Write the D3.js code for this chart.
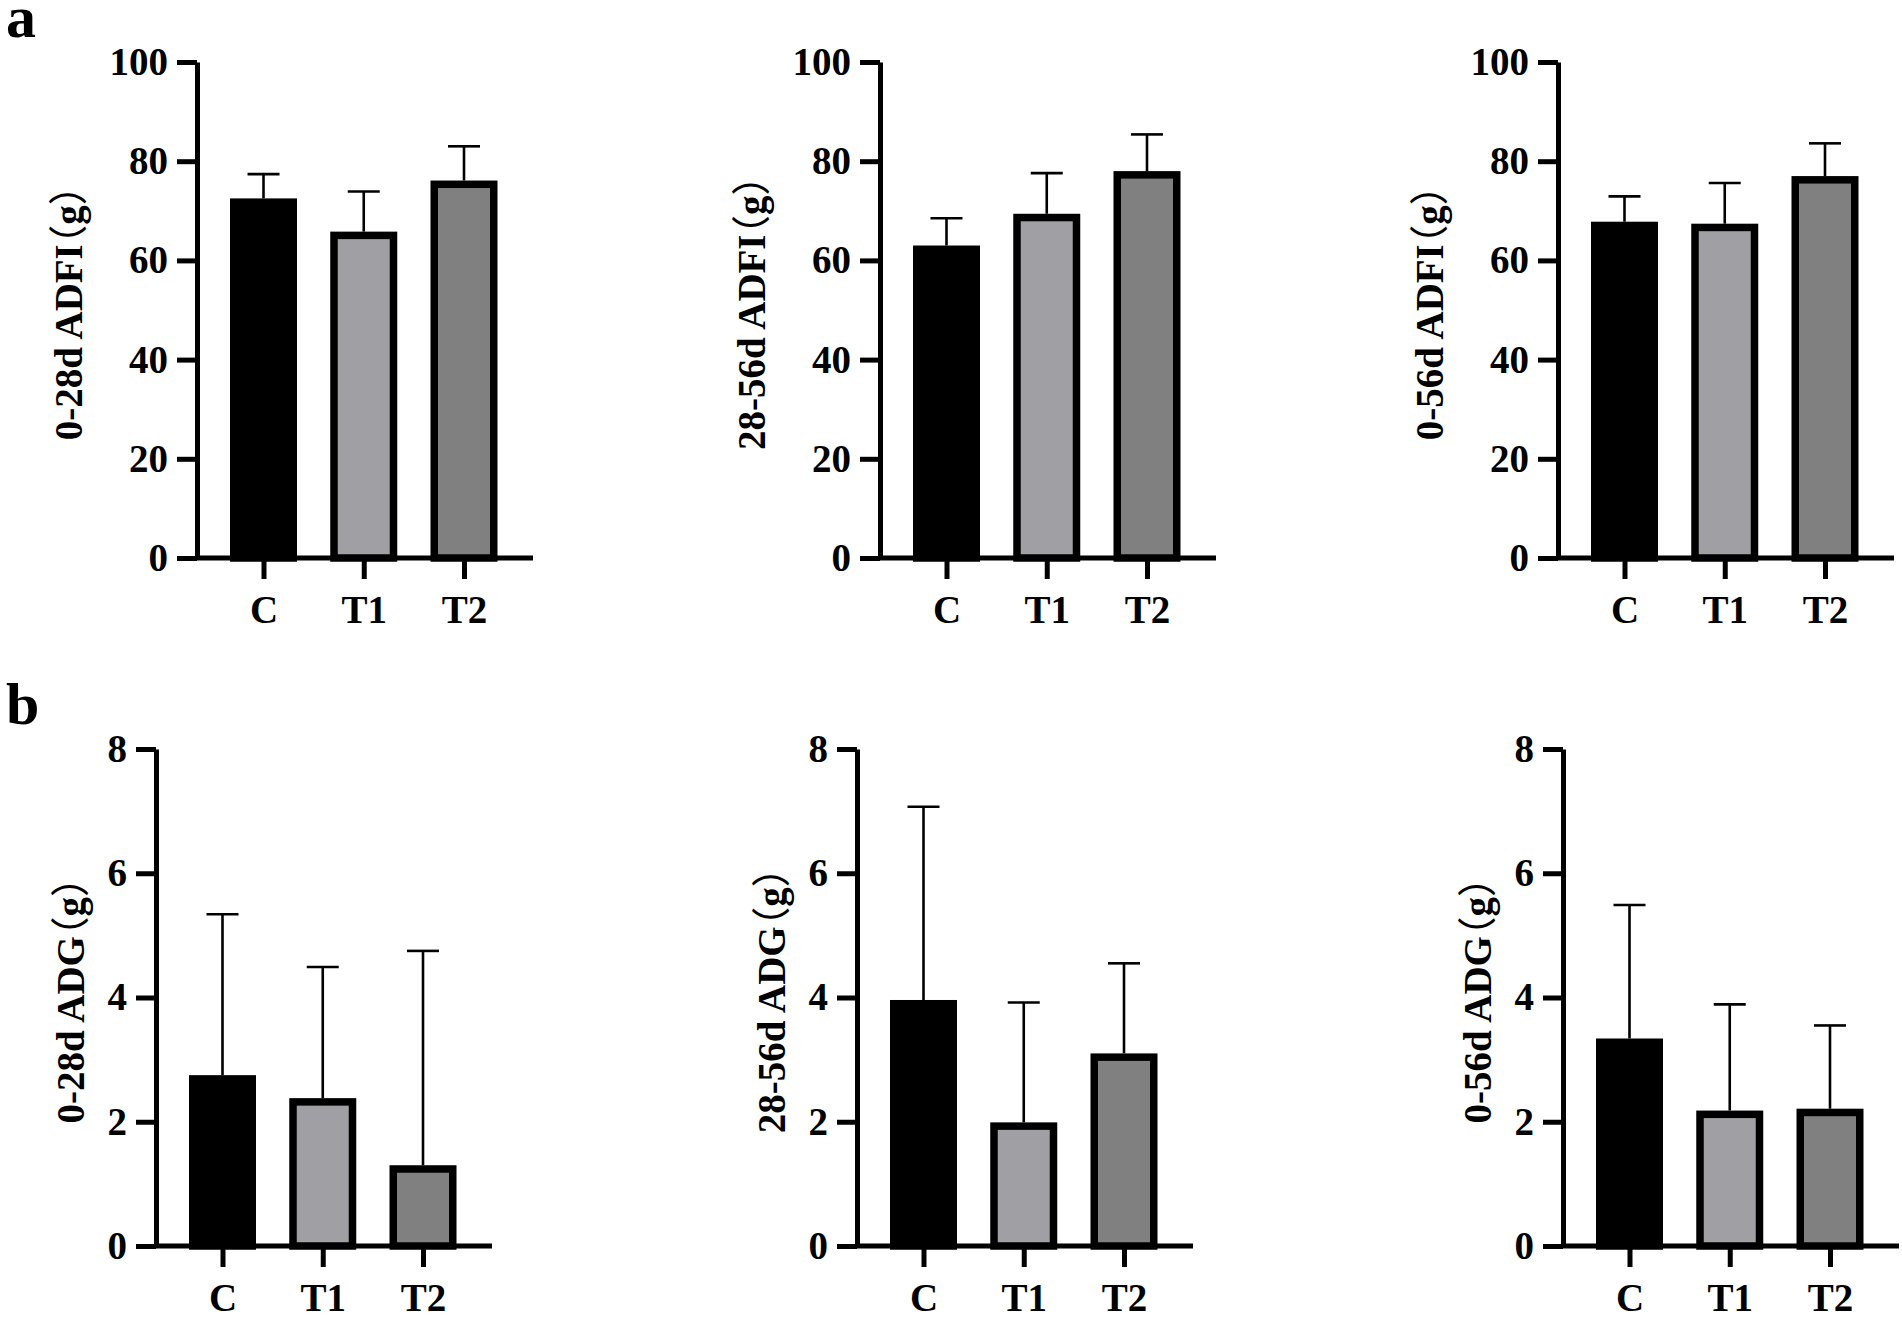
<!DOCTYPE html>
<html>
<head>
<meta charset="utf-8">
<script src="https://cdn.jsdelivr.net/npm/d3@7"></script>
<style>
  body { margin: 0; background: #fff; }
  text { font-family: "Liberation Serif", "Times New Roman", serif; font-weight: bold; fill: #000; }
  .paren { font-family: "Noto Sans CJK SC", sans-serif; font-weight: normal; font-feature-settings: "halt"; }
</style>
</head>
<body>
<script>
// groups and colours
var groups = ["C", "T1", "T2"];
var groupColors = ["#000000", "#a0a0a4", "#808080"];

// panel a: average daily feed intake
var adfiTitles = ["0-28d ADFI", "28-56d ADFI", "0-56d ADFI"];
var adfiTicks = [0, 20, 40, 60, 80, 100];
var adfiMean = [[72.5, 65.8, 76.1], [63.0, 69.4, 78.0], [67.8, 67.4, 77.0]];
var adfiSD = [[4.9, 8.1, 6.9], [5.5, 8.2, 7.4], [5.1, 8.2, 6.6]];

// panel b: average daily gain
var adgTitles = ["0-28d ADG", "28-56d ADG", "0-56d ADG"];
var adgTicks = [0, 2, 4, 6, 8];
var adgMean = [[2.75, 2.38, 1.30], [3.96, 1.99, 3.10], [3.34, 2.18, 2.21]];
var adgSD = [[2.59, 2.11, 3.45], [3.11, 1.93, 1.45], [2.15, 1.71, 1.34]];

var width = 1902, height = 1317;

var svg = d3.select("body").append("svg")
    .attr("width", width)
    .attr("height", height);

svg.append("rect").attr("width", width).attr("height", height).attr("fill", "#fff");

// panel letters
svg.append("text").attr("x", 6).attr("y", 37).style("font-size", "60px").text("a");
svg.append("text").attr("x", 6).attr("y", 724).style("font-size", "60px").text("b");

var axisLen = 336, barW = 67, barStroke = 7.5, capHalf = 16;

function drawPanel(axisX, yTop, yZero, maxVal, ticks, means, sds, title, labelGap){
    var g = svg.append("g");

    var y = d3.scaleLinear().domain([0, maxVal]).range([yZero, yTop]);
    var x = d3.scalePoint().domain(groups).range([axisX + 66.5, axisX + 267]);

    //bars, with the outline kept inside the value line
    g.selectAll(".bar")
        .data(groups)
        .enter()
        .append("rect")
        .attr("x", function(d){ return x(d) - barW / 2 + barStroke / 2; })
        .attr("y", function(d, i){ return y(means[i]) + barStroke / 2; })
        .attr("width", barW - barStroke)
        .attr("height", function(d, i){ return y(0) - y(means[i]) - barStroke / 2; })
        .attr("fill", function(d, i){ return groupColors[i]; })
        .attr("stroke", "#000")
        .attr("stroke-width", barStroke);

    //upper error bars
    g.selectAll(".err")
        .data(groups)
        .enter()
        .append("line")
        .attr("x1", function(d){ return x(d); })
        .attr("x2", function(d){ return x(d); })
        .attr("y1", function(d, i){ return y(means[i]); })
        .attr("y2", function(d, i){ return y(means[i] + sds[i]); })
        .attr("stroke", "#000")
        .attr("stroke-width", 2.6);
    g.selectAll(".cap")
        .data(groups)
        .enter()
        .append("line")
        .attr("x1", function(d){ return x(d) - capHalf; })
        .attr("x2", function(d){ return x(d) + capHalf; })
        .attr("y1", function(d, i){ return y(means[i] + sds[i]); })
        .attr("y2", function(d, i){ return y(means[i] + sds[i]); })
        .attr("stroke", "#000")
        .attr("stroke-width", 2.6);

    //y axis
    var yAxis = g.append("g")
        .attr("transform", "translate(" + axisX + ",0)")
        .call(d3.axisLeft(y).tickValues(ticks).tickSize(20).tickSizeOuter(0).tickPadding(9));
    yAxis.select(".domain").attr("stroke-width", 5);
    yAxis.selectAll(".tick line").attr("stroke-width", 5);
    yAxis.selectAll(".tick text").style("font-size", "39px").attr("font-family", null);

    //x axis base line
    g.append("line")
        .attr("x1", axisX).attr("x2", axisX + axisLen)
        .attr("y1", yZero).attr("y2", yZero)
        .attr("stroke", "#000").attr("stroke-width", 5);

    var xAxis = g.append("g")
        .attr("transform", "translate(0," + yZero + ")")
        .call(d3.axisBottom(x).tickSize(21).tickPadding(16));
    xAxis.select(".domain").remove();
    xAxis.selectAll(".tick line").attr("stroke-width", 5);
    xAxis.selectAll(".tick text").style("font-size", "39px").attr("font-family", null);

    //rotated y title
    var lab = g.append("text")
        .attr("transform", "translate(" + (axisX - labelGap) + "," + ((yTop + yZero) / 2 + 3) + ") rotate(-90)")
        .attr("text-anchor", "middle")
        .style("font-size", "39px");
    lab.append("tspan").text(title);
    lab.append("tspan").attr("class", "paren").text("（");
    lab.append("tspan").text("g");
    lab.append("tspan").attr("class", "paren").text("）");
}

var topAxisX = [197, 880, 1558];
var botAxisX = [156, 857, 1563];

for (var i = 0; i < 3; i++){
    drawPanel(topAxisX[i], 62, 558, 100, adfiTicks, adfiMean[i], adfiSD[i], adfiTitles[i], 115);
    drawPanel(botAxisX[i], 749, 1246, 8, adgTicks, adgMean[i], adgSD[i], adgTitles[i], 72);
}
</script>
</body>
</html>
